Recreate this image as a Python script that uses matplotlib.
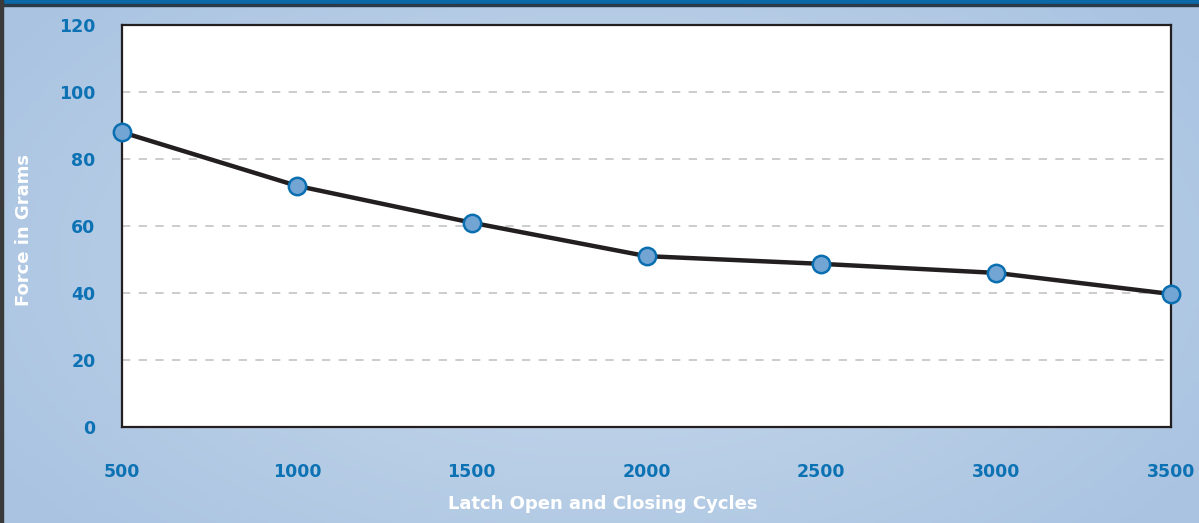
import numpy as np
import matplotlib
matplotlib.use('Agg')
import matplotlib.pyplot as plt
from matplotlib.colors import LinearSegmentedColormap
from matplotlib.patches import Rectangle

# data
cycles = [500, 1000, 1500, 2000, 2500, 3000, 3500]
force = [88, 72, 61, 51, 48.7, 46, 39.7]
y_ticks = [0, 20, 40, 60, 80, 100, 120]

label_blue = '#0d72b4'

fig = plt.figure(figsize=(11.99, 5.23), dpi=100)

# light blue gradient background
bg = fig.add_axes([0, 0, 1, 1], zorder=-10)
xx, yy = np.meshgrid(np.linspace(-1, 1, 300), np.linspace(-1, 1, 150))
r = np.sqrt((xx * 0.9) ** 2 + (yy * 0.7) ** 2)
cmap = LinearSegmentedColormap.from_list('bgblue', ['#c6d8eb', '#a9c3e1'])
bg.imshow(r, cmap=cmap, aspect='auto', extent=[0, 1, 0, 1], vmin=0.1, vmax=1.1)
bg.set_xlim(0, 1)
bg.set_ylim(0, 1)
bg.axis('off')
# dark blue strip at the top and a thin dark left border
bg.add_patch(Rectangle((0, 1 - 4 / 523), 1, 4 / 523, color='#0b69a7', zorder=5))
bg.add_patch(Rectangle((0, 1 - 5.5 / 523), 1, 1.5 / 523, color='#2a3a48', zorder=5))
bg.add_patch(Rectangle((0, 0), 2.5 / 1199, 1, color='#3a3a3a', zorder=5))

ax = fig.add_axes([122 / 1199, 1 - 427 / 523, (1171 - 122) / 1199, (427 - 25) / 523])
ax.set_facecolor('white')
ax.plot(cycles, force, color='#231f20', linewidth=3.2, zorder=3,
        marker='o', markersize=12.5, markerfacecolor='#72a5d4',
        markeredgecolor='#0a6fb0', markeredgewidth=1.8, clip_on=False)

ax.set_xlim(500, 3500)
ax.set_ylim(0, 120)
ax.set_xticks(cycles)
ax.set_yticks(y_ticks)
for y in y_ticks[1:-1]:
    ax.axhline(y, color='#c4c4c6', linestyle=(0, (5, 5)), linewidth=1.2, zorder=1)

ax.tick_params(axis='both', length=0, labelsize=12.5, labelcolor=label_blue)
ax.tick_params(axis='y', pad=19)
ax.tick_params(axis='x', pad=26)
for lab in ax.get_xticklabels() + ax.get_yticklabels():
    lab.set_fontweight('bold')

for side in ['left', 'right', 'top', 'bottom']:
    ax.spines[side].set_color('#231f20')
    ax.spines[side].set_linewidth(1.6)

fig.text(603 / 1199, 1 - 504 / 523, 'Latch Open and Closing Cycles', color='white',
         fontsize=13, fontweight='bold', ha='center', va='center')
fig.text(24 / 1199, 1 - 230 / 523, 'Force in Grams', color='white',
         fontsize=13, fontweight='bold', ha='center', va='center', rotation=90)

fig.savefig('out.png', dpi=100)
